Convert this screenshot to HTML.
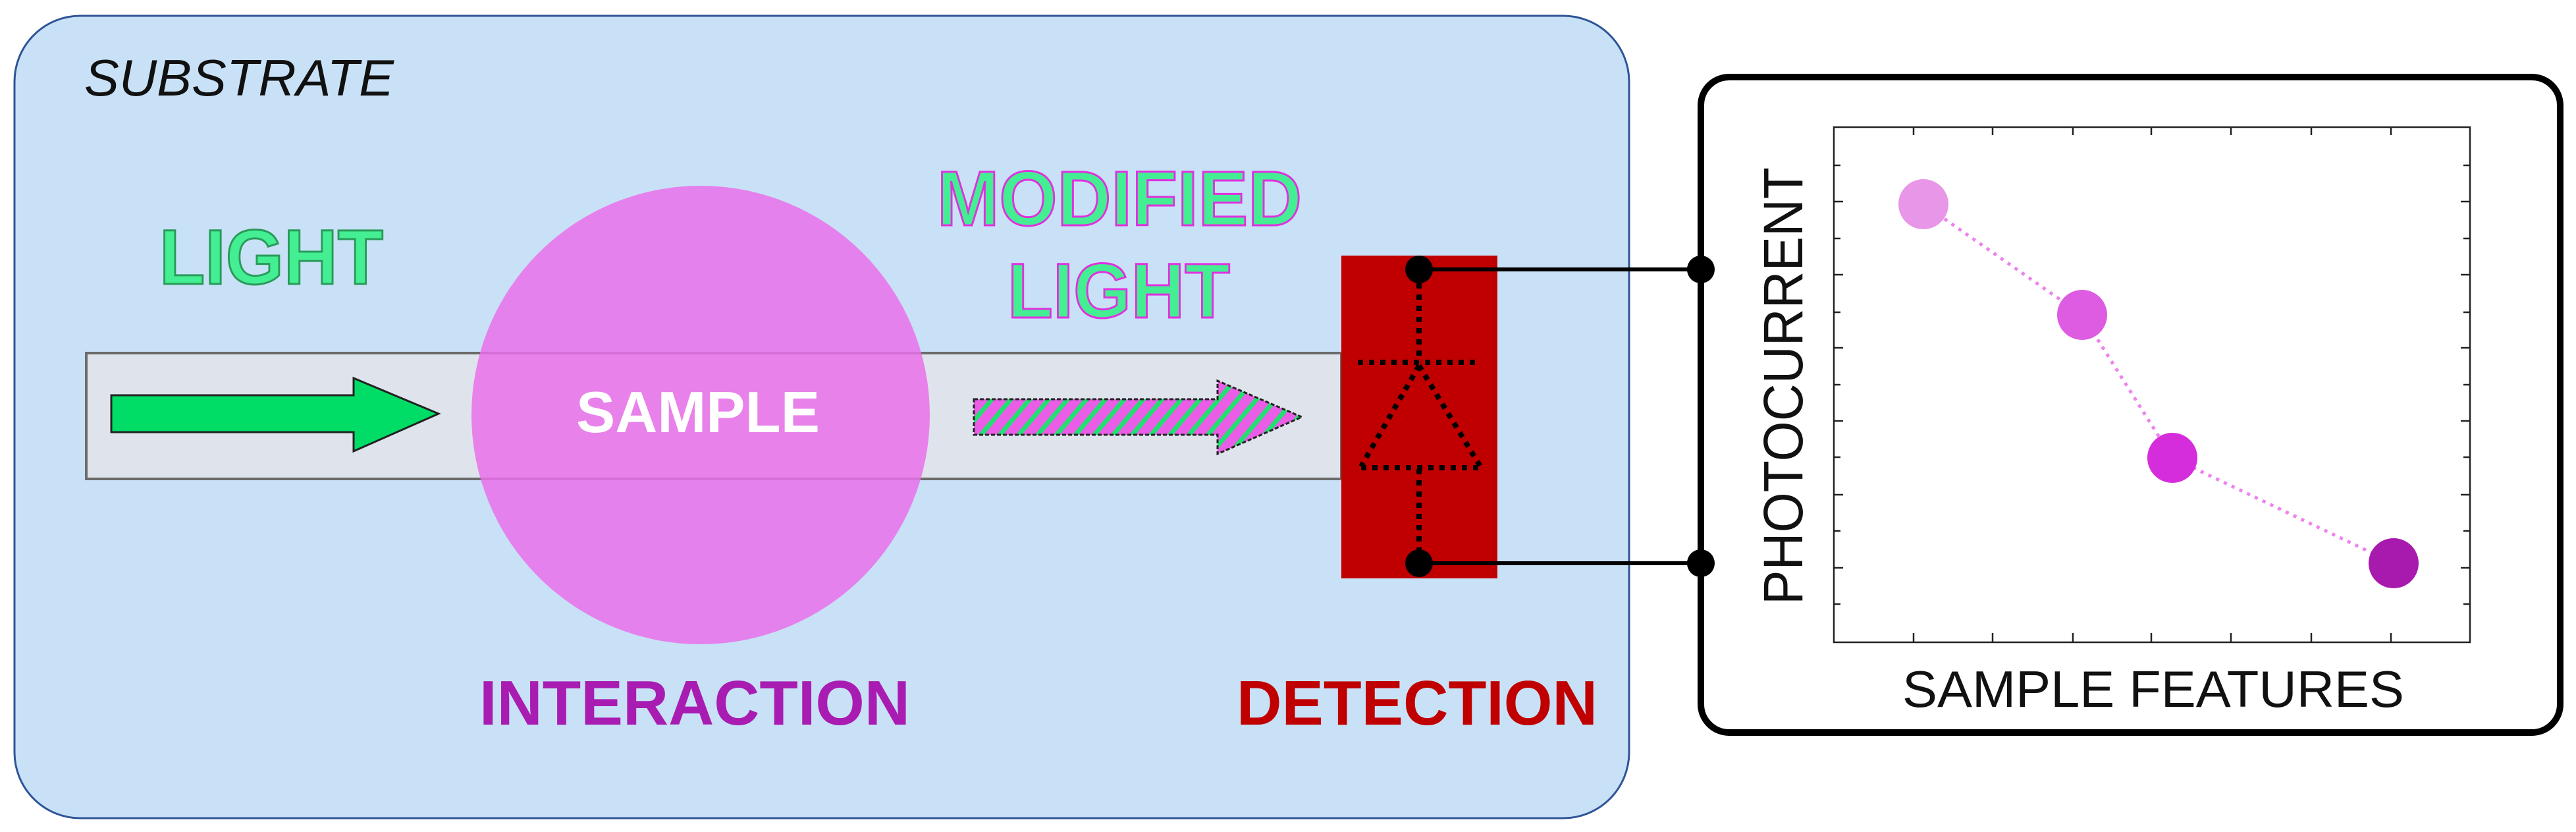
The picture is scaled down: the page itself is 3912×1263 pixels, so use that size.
<!DOCTYPE html>
<html><head><meta charset="utf-8"><style>html,body{margin:0;padding:0;background:#fff}svg{display:block}</style></head>
<body>
<svg width="3912" height="1263" viewBox="0 0 3912 1263" xmlns="http://www.w3.org/2000/svg" font-family="Liberation Sans, sans-serif">
<defs>
<pattern id="h" width="22" height="22" patternUnits="userSpaceOnUse" patternTransform="rotate(40)">
<rect width="22" height="22" fill="#ea5de6"/><rect width="7" height="22" fill="#22e070"/>
</pattern>
</defs>
<rect x="22" y="24" width="2452" height="1218" rx="100" ry="100" fill="#c9e1f7" stroke="#2f5597" stroke-width="3"/>
<text x="128" y="145" font-size="78" font-style="italic" fill="#111" textLength="470" lengthAdjust="spacingAndGlyphs">SUBSTRATE</text>
<rect x="131" y="536" width="1906" height="191" fill="#dfe4ec" stroke="#6b6b6b" stroke-width="4"/>
<polygon points="169,600 537,600 537,574 666,628 537,685 537,656 169,656" fill="#00dd66" stroke="#222" stroke-width="3"/>
<circle cx="1064" cy="630" r="348" fill="#ea70ea" fill-opacity="0.85"/>
<text x="1060" y="656" font-size="88" font-weight="bold" fill="#fff" text-anchor="middle" textLength="370" lengthAdjust="spacingAndGlyphs">SAMPLE</text>
<polygon points="1479,606 1849,606 1849,578 1977,633 1849,689 1849,660 1479,660" fill="url(#h)" stroke="#222" stroke-width="3" stroke-dasharray="6,3"/>
<g font-size="118" font-weight="bold" fill="#44ee92" stroke-width="3">
<text x="242" y="431" stroke="#2a9a5a" textLength="340" lengthAdjust="spacingAndGlyphs">LIGHT</text>
<text x="1423" y="342" stroke="#e030e0" textLength="554" lengthAdjust="spacingAndGlyphs">MODIFIED</text>
<text x="1530" y="482" stroke="#e030e0" textLength="338" lengthAdjust="spacingAndGlyphs">LIGHT</text>
</g>
<text x="728" y="1100" font-size="96" font-weight="bold" fill="#a81cb2" textLength="654" lengthAdjust="spacingAndGlyphs">INTERACTION</text>
<text x="1878" y="1100" font-size="96" font-weight="bold" fill="#c00000" textLength="548" lengthAdjust="spacingAndGlyphs">DETECTION</text>
<rect x="2037" y="388" width="237" height="490" fill="#c00000"/>
<g stroke="#000" stroke-width="8" stroke-dasharray="8,9" fill="none">
<line x1="2155" y1="430" x2="2155" y2="550"/>
<line x1="2062" y1="550" x2="2243" y2="550"/>
<line x1="2155" y1="555" x2="2067" y2="708"/>
<line x1="2155" y1="555" x2="2248" y2="708"/>
<line x1="2067" y1="710" x2="2248" y2="710"/>
<line x1="2155" y1="712" x2="2155" y2="835"/>
</g>
<g stroke="#000" stroke-width="6"><line x1="2155" y1="409" x2="2583" y2="409"/><line x1="2155" y1="855" x2="2583" y2="855"/></g>
<g fill="#000"><circle cx="2155" cy="409" r="21"/><circle cx="2155" cy="855" r="21"/><circle cx="2583" cy="409" r="21"/><circle cx="2583" cy="855" r="21"/></g>
<rect x="2583" y="117" width="1305" height="995" rx="43" fill="#fff" stroke="#000" stroke-width="10"/>
<g stroke="#000" stroke-width="5"><line x1="2155" y1="409" x2="2583" y2="409"/><line x1="2155" y1="855" x2="2583" y2="855"/></g>
<g fill="#000"><circle cx="2583" cy="409" r="21"/><circle cx="2583" cy="855" r="21"/></g>
<rect x="2785" y="193" width="966" height="782" fill="none" stroke="#222" stroke-width="2.5"/>
<g stroke="#222" stroke-width="2.5">
<path d="M2906 193v12M3026 193v12M3148 193v12M3267 193v12M3388 193v12M3510 193v12M3631 193v12
M2906 975v-14M3026 975v-14M3148 975v-14M3267 975v-14M3388 975v-14M3510 975v-14M3631 975v-14
M2785 251h10M2785 306h14M2785 362h10M2785 417h14M2785 474h10M2785 528h14M2785 584h10M2785 639h14M2785 694h10M2785 751h14M2785 806h10M2785 862h14M2785 917h10
M3751 251h-10M3751 306h-14M3751 362h-10M3751 417h-14M3751 474h-10M3751 528h-14M3751 584h-10M3751 639h-14M3751 694h-10M3751 751h-14M3751 806h-10M3751 862h-14M3751 917h-10"/>
</g>
<polyline points="2921,310 3162,478 3299,695 3635,855" fill="none" stroke="#ee82ee" stroke-width="5" stroke-dasharray="5,8"/>
<circle cx="2921" cy="310" r="38" fill="#e896e8"/>
<circle cx="3162" cy="478" r="38" fill="#dd5ce2"/>
<circle cx="3299" cy="695" r="38" fill="#d62ddc"/>
<circle cx="3635" cy="855" r="38" fill="#a81aad"/>
<text transform="translate(2737,918) rotate(-90)" font-size="84" fill="#111" textLength="664" lengthAdjust="spacingAndGlyphs">PHOTOCURRENT</text>
<text x="2889" y="1073" font-size="78" fill="#111" textLength="762" lengthAdjust="spacingAndGlyphs">SAMPLE FEATURES</text>
</svg>
</body></html>
